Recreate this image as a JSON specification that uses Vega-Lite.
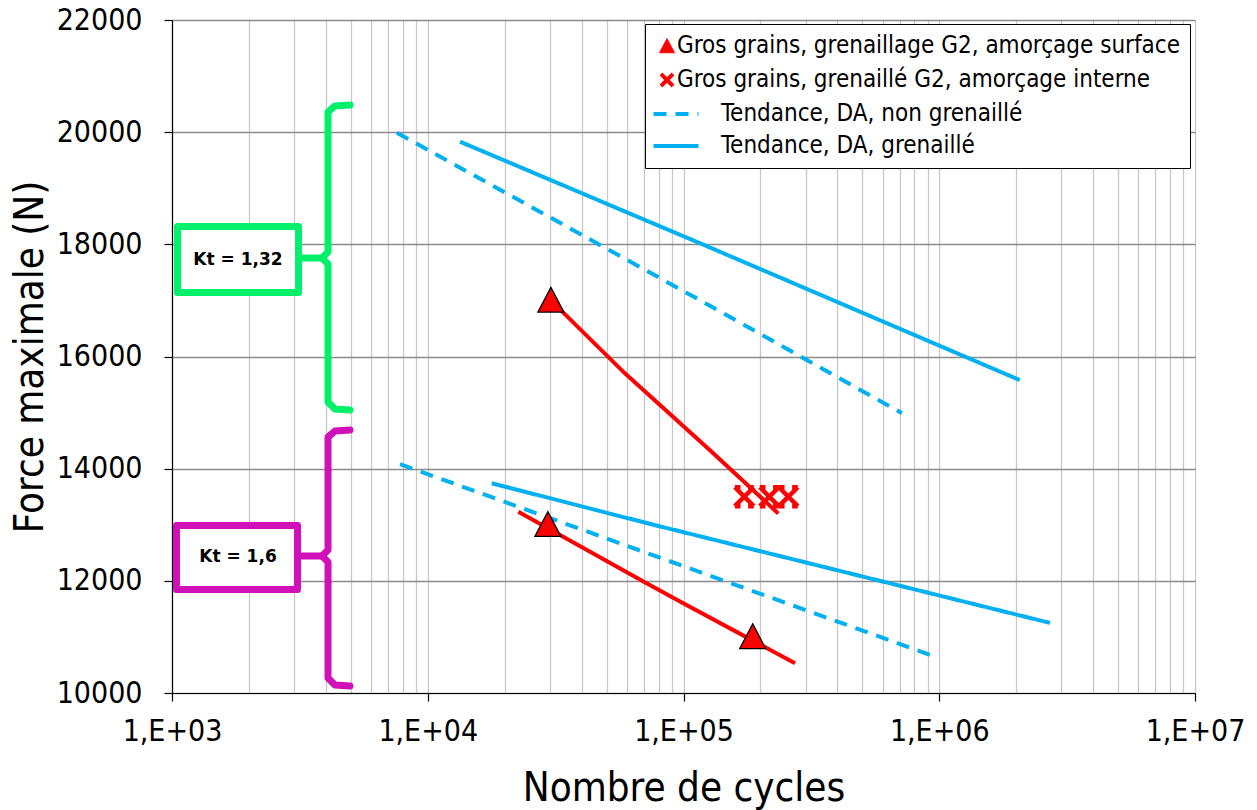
{
  "$schema": "https://vega.github.io/schema/vega-lite/v6.json",
  "width": 1023,
  "height": 673,
  "autosize": "none",
  "padding": {"left": 172, "top": 20, "right": 62, "bottom": 117},
  "background": "#ffffff",
  "config": {"view": {"stroke": null}, "font": "DejaVu Sans Condensed"},
  "datasets": {
    "pts_surface": [
      {"n": 30300, "f": 17000, "serie": "Gros grains, grenaillage G2, amorçage surface"},
      {"n": 29500, "f": 13000, "serie": "Gros grains, grenaillage G2, amorçage surface"},
      {"n": 186500, "f": 11000, "serie": "Gros grains, grenaillage G2, amorçage surface"}
    ],
    "pts_interne": [
      {"n": 172900, "f": 13500, "serie": "Gros grains, grenaillé G2, amorçage interne"},
      {"n": 216500, "f": 13500, "serie": "Gros grains, grenaillé G2, amorçage interne"},
      {"n": 257000, "f": 13500, "serie": "Gros grains, grenaillé G2, amorçage interne"}
    ],
    "tend_DA": [
      {"serie": "Tendance, DA, non grenaillé", "kt": "1,32", "n": 7570, "f": 19990},
      {"serie": "Tendance, DA, non grenaillé", "kt": "1,32", "n": 103400, "f": 17130},
      {"serie": "Tendance, DA, non grenaillé", "kt": "1,32", "n": 714500, "f": 14990},
      {"serie": "Tendance, DA, grenaillé", "kt": "1,32", "n": 13370, "f": 19830},
      {"serie": "Tendance, DA, grenaillé", "kt": "1,32", "n": 115900, "f": 18020},
      {"serie": "Tendance, DA, grenaillé", "kt": "1,32", "n": 2064000, "f": 15580},
      {"serie": "Tendance, DA, non grenaillé", "kt": "1,6", "n": 7790, "f": 14080},
      {"serie": "Tendance, DA, non grenaillé", "kt": "1,6", "n": 385500, "f": 11300},
      {"serie": "Tendance, DA, non grenaillé", "kt": "1,6", "n": 920000, "f": 10680},
      {"serie": "Tendance, DA, grenaillé", "kt": "1,6", "n": 17780, "f": 13740},
      {"serie": "Tendance, DA, grenaillé", "kt": "1,6", "n": 76200, "f": 13000},
      {"serie": "Tendance, DA, grenaillé", "kt": "1,6", "n": 2710000, "f": 11250}
    ],
    "tend_rouge": [
      {"kt": "1,32", "n": 30300, "f": 17000},
      {"kt": "1,32", "n": 59000, "f": 15700},
      {"kt": "1,32", "n": 126900, "f": 14330},
      {"kt": "1,32", "n": 234800, "f": 13200},
      {"kt": "1,6", "n": 22600, "f": 13230},
      {"kt": "1,6", "n": 69700, "f": 11990},
      {"kt": "1,6", "n": 96900, "f": 11630},
      {"kt": "1,6", "n": 272900, "f": 10530}
    ],
    "cadres": [
      {"kt": "1,32", "label": "Kt = 1,32", "n": 1051, "n2": 3124, "f": 18318, "f2": 17141, "nt": 1811, "ft": 17721},
      {"kt": "1,6", "label": "Kt = 1,6", "n": 1041, "n2": 3096, "f": 12987, "f2": 11846, "nt": 1811, "ft": 12425}
    ],
    "accolades": [
      {"kt": "1,32", "seg": "a132", "i": 0, "n": 4966, "f": 20484},
      {"kt": "1,32", "seg": "a132", "i": 1, "n": 4335, "f": 20467},
      {"kt": "1,32", "seg": "a132", "i": 2, "n": 4074, "f": 20360},
      {"kt": "1,32", "seg": "a132", "i": 3, "n": 4074, "f": 17863},
      {"kt": "1,32", "seg": "a132", "i": 4, "n": 3859, "f": 17756},
      {"kt": "1,32", "seg": "a132", "i": 5, "n": 4074, "f": 17649},
      {"kt": "1,32", "seg": "a132", "i": 6, "n": 4074, "f": 15189},
      {"kt": "1,32", "seg": "a132", "i": 7, "n": 4335, "f": 15064},
      {"kt": "1,32", "seg": "a132", "i": 8, "n": 4966, "f": 15045},
      {"kt": "1,32", "seg": "b132", "i": 0, "n": 3223, "f": 17756},
      {"kt": "1,32", "seg": "b132", "i": 1, "n": 3859, "f": 17756},
      {"kt": "1,6", "seg": "a16", "i": 0, "n": 4966, "f": 14689},
      {"kt": "1,6", "seg": "a16", "i": 1, "n": 4335, "f": 14671},
      {"kt": "1,6", "seg": "a16", "i": 2, "n": 4074, "f": 14565},
      {"kt": "1,6", "seg": "a16", "i": 3, "n": 4074, "f": 12550},
      {"kt": "1,6", "seg": "a16", "i": 4, "n": 3859, "f": 12443},
      {"kt": "1,6", "seg": "a16", "i": 5, "n": 4074, "f": 12336},
      {"kt": "1,6", "seg": "a16", "i": 6, "n": 4074, "f": 10268},
      {"kt": "1,6", "seg": "a16", "i": 7, "n": 4335, "f": 10143},
      {"kt": "1,6", "seg": "a16", "i": 8, "n": 4966, "f": 10125},
      {"kt": "1,6", "seg": "b16", "i": 0, "n": 3195, "f": 12443},
      {"kt": "1,6", "seg": "b16", "i": 1, "n": 3859, "f": 12443}
    ]
  },
  "encoding": {
    "x": {
      "field": "n", "type": "quantitative", "title": "Nombre de cycles",
      "scale": {"type": "log", "domain": [1000, 10000000], "nice": false},
      "axis": {
        "values": [1000,2000,3000,4000,5000,6000,7000,8000,9000,10000,20000,30000,40000,50000,60000,70000,80000,90000,100000,200000,300000,400000,500000,600000,700000,800000,900000,1000000,2000000,3000000,4000000,5000000,6000000,7000000,8000000,9000000,10000000],
        "labelExpr": "indexof([1000,10000,100000,1000000,10000000], datum.value) >= 0 ? '1,E+0' + round(log(datum.value)/LN10) : ''",
        "grid": true, "gridColor": "#C8C8C8", "gridWidth": 1.3,
        "tickColor": {"condition": {"test": "indexof([1000,10000,100000,1000000,10000000], datum.value) >= 0", "value": "#000000"}, "value": "transparent"},
        "tickSize": 8, "tickWidth": 1.2,
        "domainColor": "#000000", "domainWidth": 1.2,
        "labelFont": "DejaVu Sans Condensed", "labelFontSize": 30, "labelColor": "#000000", "labelPadding": 15,
        "labelFlush": false, "labelOverlap": false,
        "titleFont": "DejaVu Sans Condensed", "titleFontSize": 40, "titleFontWeight": "normal", "titleColor": "#000000", "titlePadding": 22
      }
    },
    "y": {
      "field": "f", "type": "quantitative", "title": "Force maximale (N)",
      "scale": {"domain": [10000, 22000], "nice": false, "zero": false},
      "axis": {
        "values": [10000, 12000, 14000, 16000, 18000, 20000, 22000],
        "format": "d",
        "grid": true, "gridColor": "#8A8A8A", "gridWidth": 1.5,
        "tickSize": 8, "tickColor": "#000000", "tickWidth": 1.2,
        "domainColor": "#000000", "domainWidth": 1.2,
        "labelFont": "DejaVu Sans Condensed", "labelFontSize": 30, "labelColor": "#000000", "labelPadding": 22,
        "labelOverlap": false,
        "titleFont": "DejaVu Sans Condensed", "titleFontSize": 40, "titleFontWeight": "normal", "titleColor": "#000000", "titlePadding": 6
      }
    }
  },
  "layer": [
    {
      "data": {"name": "cadres"},
      "mark": {"type": "rect", "fill": "#ffffff", "strokeWidth": 7, "strokeJoin": "round"},
      "encoding": {
        "x2": {"field": "n2"},
        "y2": {"field": "f2"},
        "stroke": {"field": "kt", "type": "nominal", "scale": {"domain": ["1,32", "1,6"], "range": ["#00F06A", "#D010B8"]}, "legend": null}
      }
    },
    {
      "data": {"name": "cadres"},
      "mark": {"type": "text", "font": "DejaVu Sans", "fontWeight": "bold", "fontSize": 17, "color": "#000000", "align": "center", "baseline": "middle"},
      "encoding": {
        "x": {"field": "nt", "type": "quantitative"},
        "y": {"field": "ft", "type": "quantitative"},
        "text": {"field": "label"}
      }
    },
    {
      "data": {"name": "accolades"},
      "mark": {"type": "line", "strokeWidth": 7, "strokeCap": "round", "strokeJoin": "round"},
      "encoding": {
        "detail": {"field": "seg"},
        "order": {"field": "i", "type": "quantitative"},
        "stroke": {"field": "kt", "type": "nominal", "scale": {"domain": ["1,32", "1,6"], "range": ["#00F06A", "#D010B8"]}, "legend": null}
      }
    },
    {
      "data": {"name": "tend_DA"},
      "mark": {"type": "line", "strokeWidth": 4},
      "encoding": {
        "detail": {"field": "kt"},
        "color": {
          "field": "serie", "type": "nominal",
          "scale": {"domain": ["Gros grains, grenaillage G2, amorçage surface", "Gros grains, grenaillé G2, amorçage interne", "Tendance, DA, non grenaillé", "Tendance, DA, grenaillé"], "range": ["#FF0000", "#FF0000", "#00B0F0", "#00B0F0"]},
          "legend": {
            "title": null, "orient": "none", "legendX": 473, "legendY": 4,
            "strokeColor": "#000000", "fillColor": "#ffffff", "padding": 10,
            "labelFont": "DejaVu Sans Condensed", "labelFontSize": 24, "labelColor": "#000000", "labelLimit": 0,
            "labelOffset": -2,
            "rowPadding": 8, "symbolSize": 196, "symbolType": "circle",
            "encode": {
              "symbols": {"update": {
                "shape": {"signal": "datum.value == 'Gros grains, grenaillage G2, amorçage surface' ? 'M0,-1L1,0.9L-1,0.9Z' : datum.value == 'Gros grains, grenaillé G2, amorçage interne' ? 'M-1,-1L1,1M1,-1L-1,1' : 'M-0.6,0L1.4,0'"},
                "size": {"signal": "datum.value == 'Gros grains, grenaillage G2, amorçage surface' ? 225 : datum.value == 'Gros grains, grenaillé G2, amorçage interne' ? 144 : 2025"},
                "fill": {"signal": "datum.value == 'Gros grains, grenaillage G2, amorçage surface' ? '#FF0000' : 'transparent'"},
                "stroke": {"signal": "datum.value == 'Gros grains, grenaillage G2, amorçage surface' ? '#000000' : datum.value == 'Gros grains, grenaillé G2, amorçage interne' ? '#FF0000' : '#00B0F0'"},
                "strokeWidth": {"signal": "datum.value == 'Gros grains, grenaillage G2, amorçage surface' ? 1 : 4"},
                "strokeDash": {"signal": "datum.value == 'Tendance, DA, non grenaillé' ? [11, 9] : [1, 0]"},
                "opacity": {"value": 1}
              }},
              "labels": {"update": {"dx": {"signal": "datum.value == 'Tendance, DA, non grenaillé' || datum.value == 'Tendance, DA, grenaillé' ? 44 : 0"}}}
            }
          }
        },
        "strokeDash": {"field": "serie", "type": "nominal", "scale": {"domain": ["Gros grains, grenaillage G2, amorçage surface", "Gros grains, grenaillé G2, amorçage interne", "Tendance, DA, non grenaillé", "Tendance, DA, grenaillé"], "range": [[1, 0], [1, 0], [13, 9], [1, 0]]}, "legend": null}
      }
    },
    {
      "data": {"name": "tend_rouge"},
      "mark": {"type": "line", "strokeWidth": 4, "color": "#FF0000"},
      "encoding": {
        "detail": {"field": "kt"}
      }
    },
    {
      "data": {"name": "pts_surface"},
      "mark": {"type": "point", "shape": "M0,-1L1,0.9L-1,0.9Z", "filled": true, "stroke": "#000000", "strokeWidth": 1.3, "size": 676, "opacity": 1},
      "encoding": {
        "color": {"field": "serie", "type": "nominal", "scale": {"domain": ["Gros grains, grenaillage G2, amorçage surface", "Gros grains, grenaillé G2, amorçage interne", "Tendance, DA, non grenaillé", "Tendance, DA, grenaillé"], "range": ["#FF0000", "#FF0000", "#00B0F0", "#00B0F0"]}}
      }
    },
    {
      "data": {"name": "pts_interne"},
      "mark": {"type": "point", "shape": "M-1,-1L1,1M1,-1L-1,1M-1,-1H-0.4M0.4,-1H1M-1,1H-0.4M0.4,1H1", "filled": false, "strokeWidth": 4.5, "size": 360, "opacity": 1},
      "encoding": {
        "color": {"field": "serie", "type": "nominal", "scale": {"domain": ["Gros grains, grenaillage G2, amorçage surface", "Gros grains, grenaillé G2, amorçage interne", "Tendance, DA, non grenaillé", "Tendance, DA, grenaillé"], "range": ["#FF0000", "#FF0000", "#00B0F0", "#00B0F0"]}}
      }
    }
  ]
}
